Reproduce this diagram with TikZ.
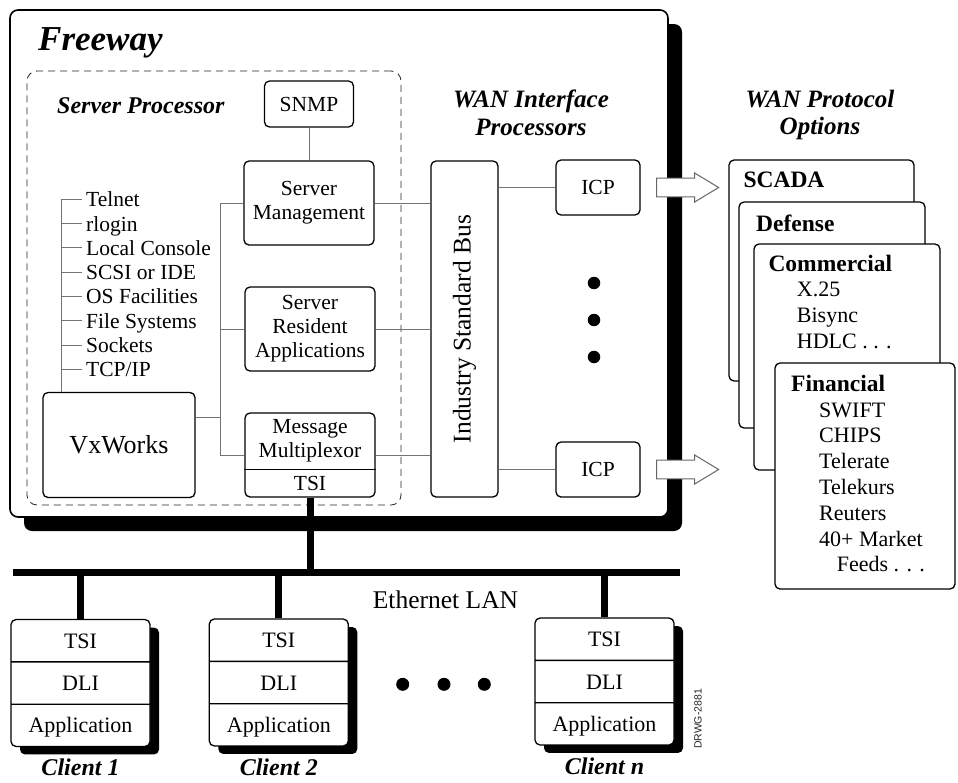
\documentclass[tikz,border=0pt]{standalone}
\usepackage{fontspec}
\setmainfont{Liberation Serif}
\setsansfont{Liberation Sans}
\usetikzlibrary{positioning,calc,shadows,shapes.multipart}

\begin{document}
\begin{tikzpicture}[
    x=1pt, y=-1pt,
    font=\fontsize{21.5}{24}\selectfont,
    blk/.style={rectangle, draw, rounded corners=5pt, line width=1.3pt,
      fill=white, align=center, inner sep=0pt},
    ttl/.style={inner sep=0pt, align=center,
      font=\fontsize{24}{27.3}\selectfont\bfseries\itshape},
    txt/.style={inner sep=0pt, anchor=base west},
    hdr/.style={txt, font=\fontsize{23.5}{26}\selectfont\bfseries},
    items/.style={inner sep=0pt, anchor=north west, align=left,
      font=\fontsize{22}{25.8}\selectfont},
    opt/.style={blk, minimum width=186pt, minimum height=226pt},
    client/.style={rectangle split, rectangle split parts=3, draw,
      rounded corners=5pt, line width=1.3pt, fill=white, inner sep=0pt,
      minimum width=139pt, font=\fontsize{22}{24}\selectfont,
      drop shadow={shadow xshift=9pt, shadow yshift=-8pt, fill=black, opacity=1}},
    ln/.style={draw=black!55, line width=1pt},
    lan/.style={line width=7pt},
    dot/.style={circle, fill=black, inner sep=0pt, minimum size=12.5pt},
    warr/.style={draw=black!60, fill=white, line width=1pt}
  ]
  \useasboundingbox (0,0) rectangle (958,782);

  % Freeway chassis and server processor area
  \node[blk, line width=1.6pt, rounded corners=8pt, minimum width=658pt, minimum height=507pt,
    drop shadow={shadow xshift=14pt, shadow yshift=-14pt, fill=black, opacity=1}] (fw) at (339,263.5) {};
  \node[draw=black!85, dash pattern=on 7pt off 5pt, rounded corners=10pt, line width=0.8pt,
    minimum width=374pt, minimum height=434pt] (sp) at (214,288) {};

  \node[ttl, anchor=base west, font=\fontsize{35}{38}\selectfont\bfseries\itshape] (freeway) at (38,50) {Freeway};
  \node[ttl, anchor=base west] (sptitle) at (57,113) {Server Processor};
  \node[ttl, anchor=north, font=\fontsize{25}{27.3}\selectfont\bfseries\itshape] (wantitle) at (531,90) {WAN Interface\\Processors};
  \node[ttl, anchor=north, font=\fontsize{25}{27.3}\selectfont\bfseries\itshape] (opttitle) at (820,90) {WAN Protocol\\Options};

  \node[blk, minimum width=89pt, minimum height=46pt]  (snmp)  at (309,104) {SNMP};
  \node[blk, minimum width=130pt, minimum height=84pt] (smgmt) at (309,203) {Server\\Management};
  \node[blk, minimum width=130pt, minimum height=84pt] (sres)  at (310,329) {Server\\Resident\\Applications};
  \node[blk, minimum width=130pt, minimum height=84pt] (mux)   at (310,455) {};
  \draw[line width=1.3pt] ($(mux.north west)!0.67!(mux.south west)$) -- ($(mux.north east)!0.67!(mux.south east)$);
  \node[inner sep=0pt, align=center, font=\fontsize{21.5}{23.4}\selectfont] (muxtxt) at ($(mux.north)!0.335!(mux.south)$) {Message\\Multiplexor};
  \node[inner sep=0pt] (muxtsi) at ($(mux.north)!0.835!(mux.south)$) {TSI};
  \node[blk, minimum width=152pt, minimum height=105pt, font=\fontsize{26}{28}\selectfont] (vx) at (119,445) {VxWorks};

  % services list
  \coordinate (lroot) at (61,199.5);
  \node[txt] (telnet)  at (86,206.7) {Telnet};
  \node[txt] (rlogin)  at (86,231)   {rlogin};
  \node[txt] (console) at (86,255.2) {Local Console};
  \node[txt] (scsi)    at (86,279.5) {SCSI or IDE};
  \node[txt] (osfac)   at (86,303.8) {OS Facilities};
  \node[txt] (filesys) at (86,328.1) {File Systems};
  \node[txt] (sockets) at (86,352.3) {Sockets};
  \node[txt] (tcpip)   at (86,376.6) {TCP/IP};

  \draw[ln] (lroot) -- (lroot |- vx.north);
  \draw[ln] ($(lroot |- telnet.base)+(0,-7.3)$)  -- ($(telnet.base west)+(-4,-7.3)$);
  \draw[ln] ($(lroot |- rlogin.base)+(0,-7.3)$)  -- ($(rlogin.base west)+(-4,-7.3)$);
  \draw[ln] ($(lroot |- console.base)+(0,-7.3)$) -- ($(console.base west)+(-4,-7.3)$);
  \draw[ln] ($(lroot |- scsi.base)+(0,-7.3)$)    -- ($(scsi.base west)+(-4,-7.3)$);
  \draw[ln] ($(lroot |- osfac.base)+(0,-7.3)$)   -- ($(osfac.base west)+(-4,-7.3)$);
  \draw[ln] ($(lroot |- filesys.base)+(0,-7.3)$) -- ($(filesys.base west)+(-4,-7.3)$);
  \draw[ln] ($(lroot |- sockets.base)+(0,-7.3)$) -- ($(sockets.base west)+(-4,-7.3)$);
  \draw[ln] ($(lroot |- tcpip.base)+(0,-7.3)$)   -- ($(tcpip.base west)+(-4,-7.3)$);

  % WAN interface side
  \node[blk, minimum width=67pt, minimum height=336pt] (bus) at (464.5,329) {};
  \node[rotate=90, inner sep=0pt, font=\fontsize{25.5}{28}\selectfont] (bustxt) at (bus.center) {Industry Standard Bus};
  \node[blk, minimum width=84pt, minimum height=55pt] (icpa) at (598,187.5) {ICP};
  \node[blk, minimum width=84pt, minimum height=55pt] (icpb) at (598,469.5) {ICP};
  \node[dot] (vd1) at (594,283) {};
  \node[dot] (vd2) at (594,320) {};
  \node[dot] (vd3) at (594,357) {};

  \coordinate (trunk) at (220,0);
  \coordinate (vxout) at ($(vx.north east)!0.24!(vx.south east)$);
  \draw[ln] (snmp.south) -- (snmp.south |- smgmt.north);
  \draw[ln] (smgmt.west) -- (smgmt.west -| trunk) -- (mux.west -| trunk) -- (mux.west);
  \draw[ln] (sres.west) -- (sres.west -| trunk);
  \draw[ln] (vxout) -- (vxout -| trunk);
  \draw[ln] (smgmt.east) -- (smgmt.east -| bus.west);
  \draw[ln] (sres.east) -- (sres.east -| bus.west);
  \draw[ln] (mux.east) -- (mux.east -| bus.west);
  \draw[ln] (icpa.west) -- (icpa.west -| bus.east);
  \draw[ln] (icpb.west) -- (icpb.west -| bus.east);

  \draw[warr] ([xshift=16pt]icpa.east) ++(0,-9.3) -- ++(38,0) -- ++(0,-5.2) -- ++(24,14.5)
    -- ++(-24,14.5) -- ++(0,-5.2) -- ++(-38,0) -- cycle;
  \draw[warr] ([xshift=16pt]icpb.east) ++(0,-9.3) -- ++(38,0) -- ++(0,-5.2) -- ++(24,14.5)
    -- ++(-24,14.5) -- ++(0,-5.2) -- ++(-38,0) -- cycle;

  % protocol option cards
  \node[opt, minimum width=185pt, minimum height=221pt] (scada) at (821.5,270.5) {};
  \node[opt] (defense) at (832,315) {};
  \node[opt] (comm)    at (847,357) {};
  \node[opt, minimum width=180pt] (fin) at (865,476) {};

  \node[hdr] (scadatxt) at (743.3,187.7) {SCADA};
  \node[hdr] (deftxt)   at (756,231.7)   {Defense};
  \node[hdr] (commtxt)  at (768.3,271.7) {Commercial};
  \node[items] (commlist) at (796.7,281.8) {X.25\\Bisync\\HDLC . . .};
  \node[hdr] (fintxt)   at (791,391.7)   {Financial};
  \node[items] (finlist) at (819,402.4) {SWIFT\\CHIPS\\Telerate\\Telekurs\\Reuters\\40+ Market\\\hspace*{17.7pt}Feeds . . .};

  % LAN and clients
  \coordinate (lanw) at (13,572.5);
  \coordinate (lane) at (680,572.5);
  \node[client] (c1) at (80.5,683) {\rule[-13pt]{0pt}{41pt}TSI\nodepart{two}\rule[-13pt]{0pt}{41pt}DLI\nodepart{three}\rule[-13pt]{0pt}{41pt}Application};
  \node[client] (c2) at (278.8,682.5) {\rule[-13pt]{0pt}{41pt}TSI\nodepart{two}\rule[-13pt]{0pt}{41pt}DLI\nodepart{three}\rule[-13pt]{0pt}{41pt}Application};
  \node[client] (cn) at (604.5,681.5) {\rule[-13pt]{0pt}{41pt}TSI\nodepart{two}\rule[-13pt]{0pt}{41pt}DLI\nodepart{three}\rule[-13pt]{0pt}{41pt}Application};
  \node[ttl, below=12pt of c1] (c1lbl) {Client 1};
  \node[ttl, below=12pt of c2] (c2lbl) {Client 2};
  \node[ttl, below=12pt of cn] (cnlbl) {Client n};

  \draw[lan] (lanw) -- (lane);
  \draw[lan] (mux.south) -- (mux.south |- lanw);
  \draw[lan] (c1.north) -- (c1.north |- lanw);
  \draw[lan] (c2.north) -- (c2.north |- lanw);
  \draw[lan] (cn.north) -- (cn.north |- lanw);

  \node[txt, font=\fontsize{25.5}{28}\selectfont] (lan) at (372.7,608.3) {Ethernet LAN};
  \node[dot, minimum size=13pt] (hd1) at (402.7,684.3) {};
  \node[dot, minimum size=13pt] (hd2) at (444,684.3) {};
  \node[dot, minimum size=13pt] (hd3) at (484.3,684.3) {};
  \node[rotate=90, inner sep=0pt, text=black!85, font=\sffamily\fontsize{10.5}{12}\selectfont] (drwg) at (698,719) {DRWG-2881};
\end{tikzpicture}
\end{document}
